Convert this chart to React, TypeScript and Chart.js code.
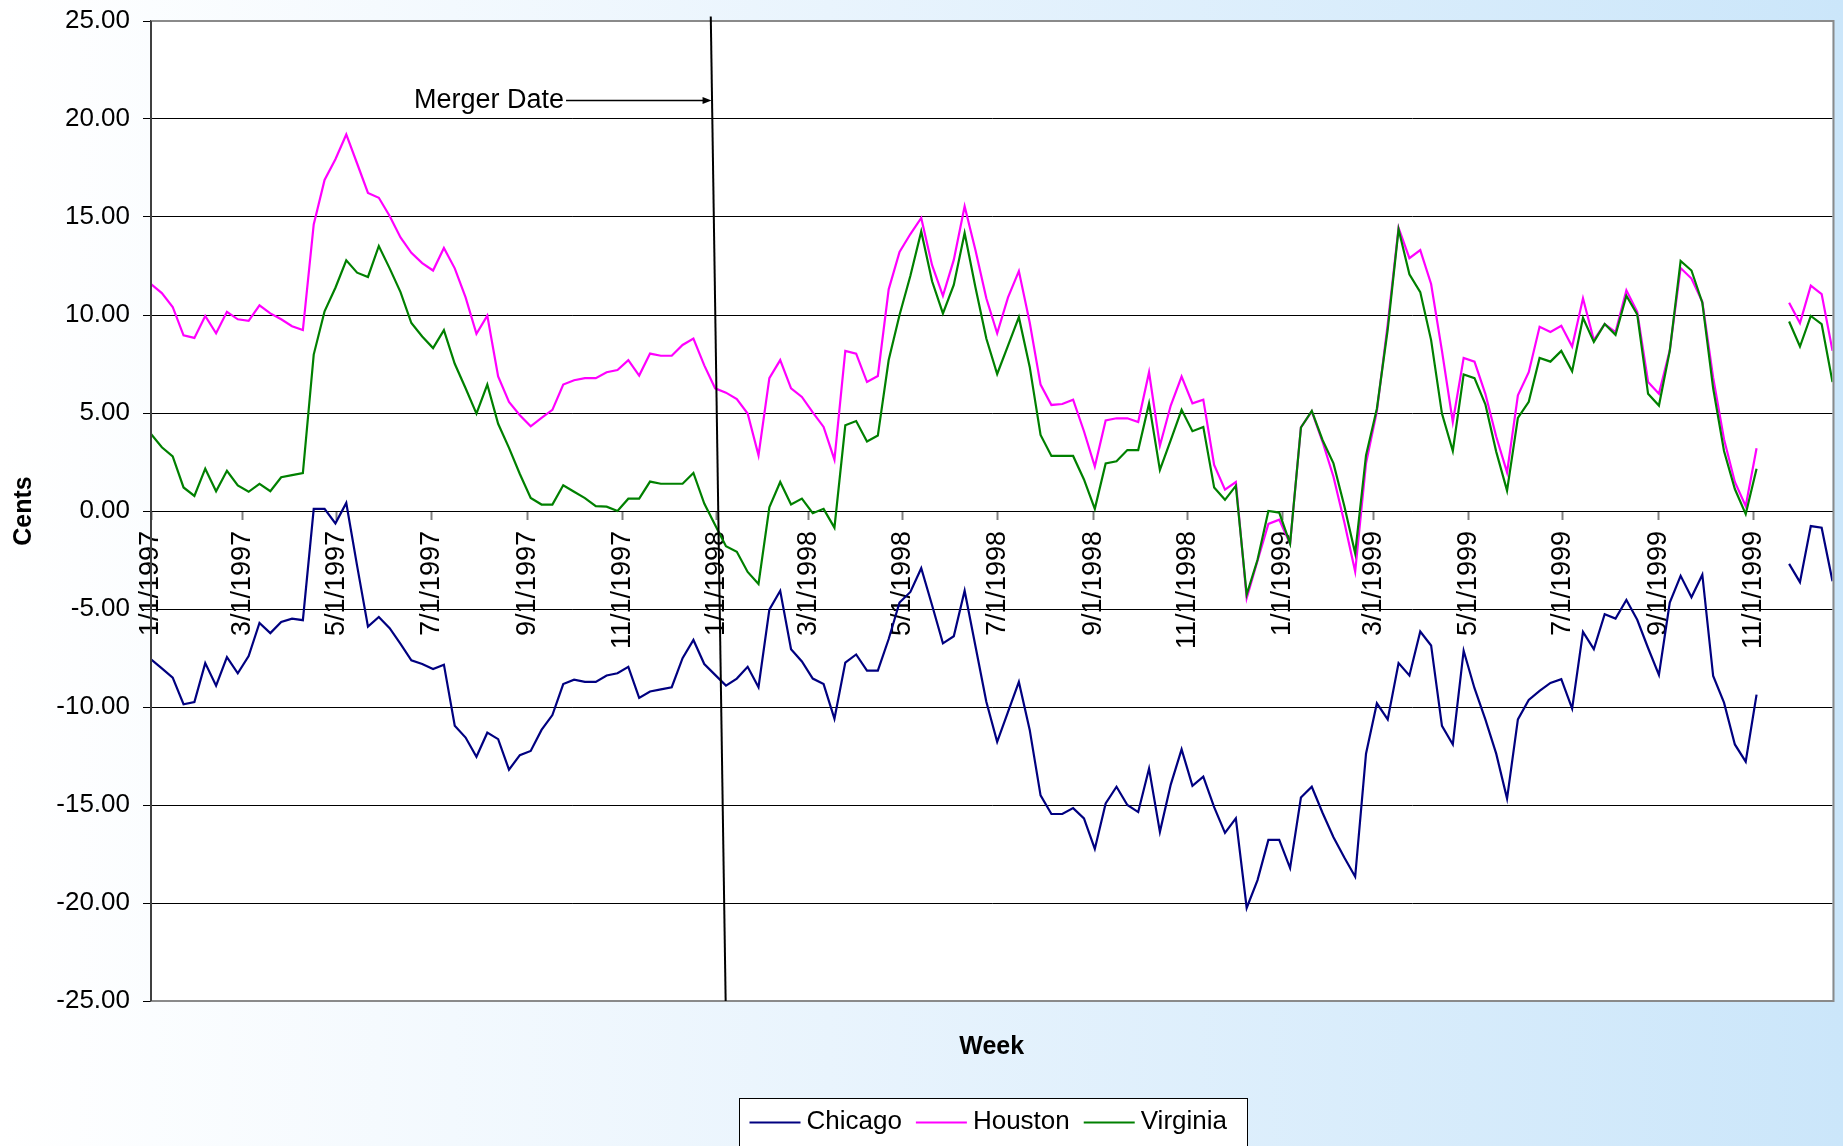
import React, { useEffect, useRef } from "react";
import { Chart, registerables } from "chart.js";

Chart.register(...registerables);

const FONT = '"Liberation Sans", Arial, Helvetica, sans-serif';

// ---- data ----
const startDate = "1/1/1997"; // first weekly observation
const weekCount = 156;

const tickLabels = [
  "1/1/1997", "3/1/1997", "5/1/1997", "7/1/1997", "9/1/1997", "11/1/1997",
  "1/1/1998", "3/1/1998", "5/1/1998", "7/1/1998", "9/1/1998", "11/1/1998",
  "1/1/1999", "3/1/1999", "5/1/1999", "7/1/1999", "9/1/1999", "11/1/1999",
];

const yTickValues = [-25, -20, -15, -10, -5, 0, 5, 10, 15, 20, 25];

const seriesNames = ["Chicago", "Houston", "Virginia"];
const seriesColors = ["#000080", "#ff00ff", "#008000"];

const chicago = [
  -7.57, -8.03, -8.5, -9.86, -9.75, -7.76, -8.91, -7.46, -8.28, -7.4,
  -5.71, -6.23, -5.66, -5.49, -5.57, 0.11, 0.11, -0.63, 0.41, -2.8,
  -5.9, -5.41, -5.98, -6.78, -7.62, -7.81, -8.06, -7.84, -10.96, -11.56,
  -12.54, -11.31, -11.64, -13.2, -12.46, -12.24, -11.17, -10.41, -8.83, -8.61,
  -8.72, -8.72, -8.39, -8.28, -7.95, -9.54, -9.21, -9.1, -8.99, -7.51,
  -6.58, -7.81, -8.36, -8.91, -8.55, -7.95, -8.99, -5.03, -4.07, -7.05,
  -7.68, -8.55, -8.83, -10.6, -7.73, -7.32, -8.14, -8.14, -6.53, -4.67,
  -4.13, -2.92, -4.81, -6.75, -6.39, -4.07, -6.9, -9.73, -11.78, -10.25,
  -8.72, -11.17, -14.51, -15.46, -15.46, -15.16, -15.68, -17.24, -14.92, -14.07,
  -15.0, -15.36, -13.14, -16.37, -13.96, -12.16, -14.02, -13.55, -15.11, -16.42,
  -15.68, -20.25, -18.83, -16.78, -16.78, -18.22, -14.62, -14.07, -15.41, -16.64,
  -17.68, -18.66, -12.38, -9.81, -10.63, -7.76, -8.39, -6.15, -6.86, -10.96,
  -11.91, -7.13, -9.04, -10.63, -12.38, -14.67, -10.63, -9.64, -9.18, -8.77,
  -8.58, -10.08, -6.17, -7.05, -5.27, -5.49, -4.54, -5.55, -6.99, -8.36,
  -4.67, -3.31, -4.4, -3.25, -8.42, -9.78, -11.91, -12.79, -9.37, null,
  null, -2.7, -3.63, -0.77, -0.85, -3.58,
];

const houston = [
  11.58, 11.12, 10.41, 8.96, 8.83, 9.95, 9.07, 10.16, 9.78, 9.7,
  10.49, 10.08, 9.78, 9.43, 9.23, 14.62, 16.89, 17.95, 19.21, 17.73,
  16.23, 15.98, 15.05, 13.96, 13.17, 12.65, 12.27, 13.42, 12.38, 10.9,
  9.04, 9.97, 6.86, 5.57, 4.89, 4.32, 4.75, 5.16, 6.45, 6.67,
  6.78, 6.78, 7.08, 7.19, 7.7, 6.91, 8.03, 7.92, 7.92, 8.47,
  8.8, 7.43, 6.26, 6.04, 5.71, 4.97, 2.84, 6.78, 7.7, 6.26,
  5.82, 5.03, 4.29, 2.62, 8.17, 8.03, 6.58, 6.89, 11.31, 13.22,
  14.13, 14.95, 12.54, 10.98, 12.81, 15.55, 13.3, 10.85, 9.07, 10.9,
  12.24, 9.62, 6.45, 5.41, 5.46, 5.68, 4.07, 2.27, 4.62, 4.73,
  4.73, 4.54, 7.08, 3.33, 5.38, 6.86, 5.49, 5.68, 2.35, 1.09,
  1.48, -4.45, -2.54, -0.66, -0.44, -1.67, 4.26, 5.08, 3.52, 1.75,
  -0.57, -3.09, 2.43, 5.08, 9.54, 14.45, 12.9, 13.31, 11.58, 8.17,
  4.54, 7.81, 7.62, 5.98, 3.8, 1.97, 5.9, 7.08, 9.4, 9.13,
  9.45, 8.39, 10.85, 8.72, 9.54, 9.13, 11.26, 10.16, 6.58, 5.98,
  8.2, 12.4, 11.86, 10.68, 6.8, 3.66, 1.48, 0.25, 3.2, null,
  null, 10.63, 9.59, 11.5, 11.07, 8.17,
];

const virginia = [
  3.93, 3.25, 2.79, 1.2, 0.77, 2.16, 1.01, 2.05, 1.31, 0.98,
  1.39, 1.01, 1.72, 1.83, 1.94, 7.98, 10.19, 11.39, 12.79, 12.16,
  11.94, 13.52, 12.38, 11.17, 9.59, 8.9, 8.31, 9.23, 7.51, 6.26,
  4.97, 6.45, 4.45, 3.22, 1.89, 0.66, 0.33, 0.33, 1.31, 0.98,
  0.66, 0.25, 0.22, 0.0, 0.63, 0.63, 1.5, 1.39, 1.39, 1.39,
  1.94, 0.38, -0.71, -1.8, -2.08, -3.11, -3.72, 0.19, 1.48, 0.33,
  0.63, -0.11, 0.11, -0.85, 4.37, 4.59, 3.55, 3.85, 7.7, 10.0,
  12.0, 14.26, 11.72, 10.08, 11.53, 14.18, 11.4, 8.8, 6.99, 8.44,
  9.89, 7.35, 3.88, 2.81, 2.81, 2.81, 1.61, 0.11, 2.43, 2.54,
  3.11, 3.11, 5.49, 2.1, 3.61, 5.16, 4.07, 4.29, 1.2, 0.57,
  1.28, -4.26, -2.49, 0.0, -0.08, -1.67, 4.26, 5.11, 3.61, 2.43,
  0.25, -2.16, 2.84, 5.22, 9.26, 14.37, 12.08, 11.17, 8.72, 4.97,
  3.06, 6.97, 6.78, 5.44, 3.03, 1.04, 4.75, 5.57, 7.81, 7.62,
  8.17, 7.13, 9.86, 8.63, 9.54, 8.99, 10.98, 10.03, 5.98, 5.38,
  8.17, 12.76, 12.27, 10.63, 6.26, 3.06, 1.12, -0.16, 2.16, null,
  null, 9.67, 8.39, 9.95, 9.54, 6.58,
];

// ---- helpers ----
function dayOf(s: string): number {
  const [m, d, y] = s.split("/").map(Number);
  const [m0, d0, y0] = startDate.split("/").map(Number);
  return Math.round((Date.UTC(y, m - 1, d) - Date.UTC(y0, m0 - 1, d0)) / 86400000);
}
const tickDays = tickLabels.map(dayOf);
const lastDay = 7 * (weekCount - 1);
const toPoints = (vals: (number | null)[]) => vals.map((v, i) => ({ x: 7 * i, y: v }));

const chartBg = {
  id: "chartBg",
  beforeDraw(chart: any) {
    const { ctx, width, height, chartArea } = chart;
    ctx.save();
    const g = ctx.createLinearGradient(0, 0, width, 0);
    g.addColorStop(0, "#ffffff");
    g.addColorStop(0.45, "#e9f4fd");
    g.addColorStop(1, "#cbe6fa");
    ctx.fillStyle = g;
    ctx.fillRect(0, 0, width, height);
    ctx.fillStyle = "#ffffff";
    ctx.fillRect(chartArea.left, chartArea.top, chartArea.right - chartArea.left, chartArea.bottom - chartArea.top);
    ctx.restore();
  },
};

const overlay = {
  id: "overlay",
  afterDraw(chart: any) {
    const { ctx, chartArea } = chart;
    const xs = chart.scales.x;
    const ys = chart.scales.y;
    ctx.save();
    // plot-area frame
    ctx.strokeStyle = "#8a8a8a";
    ctx.lineWidth = 2;
    ctx.beginPath();
    ctx.moveTo(chartArea.left, chartArea.top);
    ctx.lineTo(chartArea.right + 1, chartArea.top);
    ctx.lineTo(chartArea.right + 1, chartArea.bottom);
    ctx.lineTo(chartArea.left, chartArea.bottom);
    ctx.stroke();
    ctx.strokeStyle = "#404040";
    ctx.beginPath();
    ctx.moveTo(chartArea.left, chartArea.top);
    ctx.lineTo(chartArea.left, chartArea.bottom);
    ctx.stroke();

    // merger date annotation
    ctx.strokeStyle = "#000";
    ctx.fillStyle = "#000";
    ctx.lineWidth = 2;
    ctx.beginPath();
    ctx.moveTo(xs.getPixelForValue(361.2), ys.getPixelForValue(25.23));
    ctx.lineTo(xs.getPixelForValue(370.8), ys.getPixelForValue(-25));
    ctx.stroke();
    const ay = ys.getPixelForValue(20.95);
    const ax0 = xs.getPixelForValue(267.8);
    const ax1 = xs.getPixelForValue(361.7);
    ctx.lineWidth = 1.5;
    ctx.beginPath();
    ctx.moveTo(ax0, ay);
    ctx.lineTo(ax1 - 7, ay);
    ctx.stroke();
    ctx.beginPath();
    ctx.moveTo(ax1, ay);
    ctx.lineTo(ax1 - 9, ay - 3.5);
    ctx.lineTo(ax1 - 9, ay + 3.5);
    ctx.closePath();
    ctx.fill();
    ctx.font = `27px ${FONT}`;
    ctx.textAlign = "right";
    ctx.textBaseline = "middle";
    ctx.fillText("Merger Date", ax0 - 2, ay);

    // axis titles
    ctx.font = `bold 25px ${FONT}`;
    ctx.textAlign = "center";
    ctx.textBaseline = "middle";
    ctx.fillText("Week", (chartArea.left + chartArea.right) / 2, 1047);
    ctx.save();
    ctx.translate(24, (chartArea.top + chartArea.bottom) / 2);
    ctx.rotate(-Math.PI / 2);
    ctx.fillText("Cents", 0, 0);
    ctx.restore();

    // legend
    const lx = 739.5, ly = 1098.5, lw = 508, lh = 60;
    ctx.fillStyle = "#ffffff";
    ctx.fillRect(lx, ly, lw, lh);
    ctx.strokeStyle = "#000";
    ctx.lineWidth = 1;
    ctx.strokeRect(lx, ly, lw, lh);
    ctx.font = `26px ${FONT}`;
    ctx.textAlign = "left";
    ctx.textBaseline = "alphabetic";
    let cx = 749.5;
    seriesNames.forEach((name, i) => {
      ctx.strokeStyle = seriesColors[i];
      ctx.lineWidth = 2;
      ctx.beginPath();
      ctx.moveTo(cx, 1122.5);
      ctx.lineTo(cx + 51, 1122.5);
      ctx.stroke();
      ctx.fillStyle = "#000";
      ctx.fillText(name, cx + 57, 1129);
      cx += 57 + ctx.measureText(name).width + 14;
    });
    ctx.restore();
  },
};

export default function App() {
  const ref = useRef<HTMLCanvasElement | null>(null);
  useEffect(() => {
    if (!ref.current) return;
    Chart.defaults.font.family = FONT;
    const series = [chicago, houston, virginia];
    const chart = new Chart(ref.current, {
      type: "line",
      data: {
        datasets: series.map((vals, i) => ({
          label: seriesNames[i],
          data: toPoints(vals),
          borderColor: seriesColors[i],
          backgroundColor: seriesColors[i],
          borderWidth: 2.2,
          pointRadius: 0,
          tension: 0,
          spanGaps: false,
          order: 2 - i,
        })),
      },
      options: {
        animation: false,
        responsive: false,
        events: [],
        layout: { padding: { left: 0, top: 21, right: 10.5, bottom: 145 } },
        plugins: { legend: { display: false }, tooltip: { enabled: false }, title: { display: false } },
        scales: {
          x: {
            type: "linear",
            min: 0,
            max: lastDay,
            position: { y: 0 } as any,
            z: 1,
            grid: { drawOnChartArea: false, drawTicks: true, tickLength: 8, tickColor: "#808080", tickWidth: 2 },
            border: { display: true, color: "#000", width: 1 },
            afterBuildTicks: (scale: any) => {
              scale.ticks = tickDays.map((v) => ({ value: v }));
            },
            afterFit: (scale: any) => {
              scale.paddingLeft = 0;
              scale.paddingRight = 0;
              scale.paddingTop = 0;
              scale.paddingBottom = 0;
            },
            ticks: {
              autoSkip: false,
              minRotation: 90,
              maxRotation: 90,
              padding: 12,
              color: "#000",
              font: { size: 27, family: FONT },
              callback: (v: any) => {
                const k = tickDays.indexOf(Number(v));
                return k >= 0 ? tickLabels[k] : "";
              },
            },
          },
          y: {
            type: "linear",
            min: -25,
            max: 25,
            afterBuildTicks: (scale: any) => {
              scale.ticks = yTickValues.map((v) => ({ value: v }));
            },
            afterFit: (scale: any) => {
              scale.width = 151;
              scale.paddingTop = 0;
              scale.paddingBottom = 0;
            },
            grid: {
              color: (c: any) => (Math.abs(c.tick?.value) === 25 ? "rgba(0,0,0,0)" : "#000"),
              lineWidth: 1,
              drawTicks: true,
              tickLength: 8,
              tickColor: "#000",
            },
            border: { display: true, color: "#404040", width: 2 },
            ticks: {
              padding: 13,
              color: "#000",
              font: { size: 26, family: FONT },
              callback: (v: any) => Number(v).toFixed(2),
            },
          },
        },
      },
      plugins: [chartBg, overlay],
    });
    return () => chart.destroy();
  }, []);
  return (
    <div style={{ position: "absolute", left: 0, top: 0, width: 1843, height: 1146 }}>
      <canvas ref={ref} width={1843} height={1146} style={{ width: 1843, height: 1146, display: "block" }} />
    </div>
  );
}
